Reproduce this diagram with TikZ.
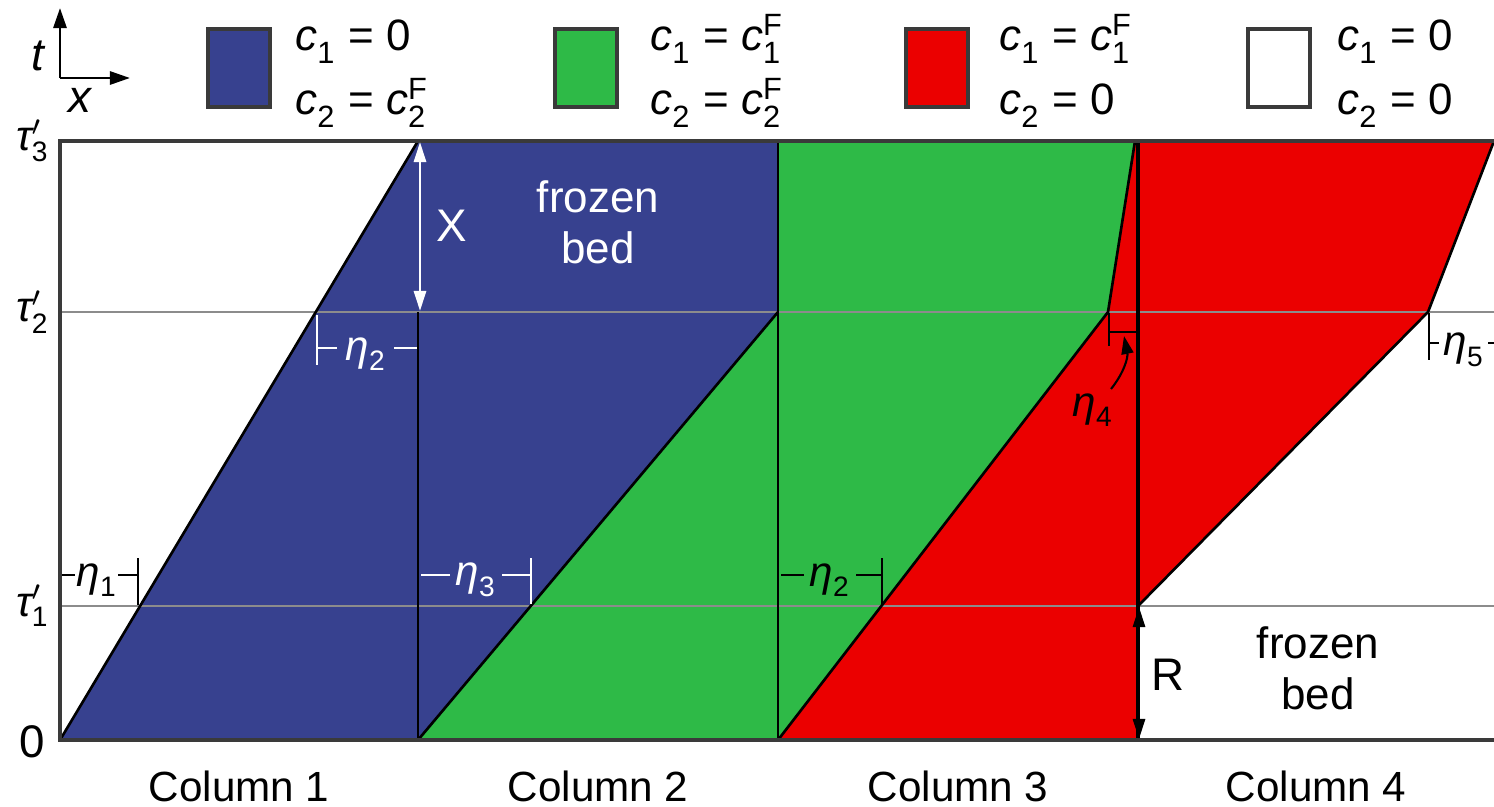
\documentclass[tikz,border=0pt]{standalone}
\usepackage{fontspec}
\usepackage{amsmath}
\setmainfont{Liberation Sans}
\usetikzlibrary{
  arrows.meta,
  positioning,
  calc
}
\definecolor{fbBlue}{HTML}{37418F}
\definecolor{fbGreen}{HTML}{2EBA47}
\definecolor{fbRed}{HTML}{EB0000}
\definecolor{fbFrame}{HTML}{3A3A3A}
\definecolor{fbGrid}{HTML}{8C8C8C}
\newcommand{\csym}[2]{$\textit{c}_{\text{#1}}^{\text{#2}}$}
\newcommand{\etasub}[1]{$\textit{η}_{\text{#1}}$}
\newcommand{\tausub}[1]{$\textit{τ}^{\prime}_{\text{#1}}$}
\tikzset{
  frameline/.style={line width=0.9pt, fbFrame},
  timeline/.style={line width=0.8pt, fbGrid},
  front/.style={line width=0.75pt, black},
  legbox/.style={draw=fbFrame, line width=0.9pt, minimum width=6.2mm, minimum height=7.8mm, inner sep=0pt},
  legtext/.style={anchor=base west, inner sep=0pt, font=\fontsize{12.5}{15}\selectfont},
  axisarrow/.style={-{Triangle[length=2mm, width=1.3mm]}, line width=0.8pt},
  span/.style={{Triangle[length=2mm, width=1.2mm]}-{Triangle[length=2mm, width=1.2mm]}, line width=0.8pt},
  dimw/.style={line width=0.5pt, white},
  dimk/.style={line width=0.5pt, black},
  etaw/.style={text=white, inner sep=1pt},
  etak/.style={text=black, inner sep=1pt},
  collabel/.style={font=\fontsize{12}{14}\selectfont},
  bedlabel/.style={align=center, font=\fontsize{12.5}{14.5}\selectfont}
}
\begin{document}
\begin{tikzpicture}[x=0.01cm, y=-0.01cm, font=\fontsize{12}{14}\selectfont]
  \useasboundingbox (0,0) rectangle (1494,806);
  \fill[fbBlue] (60,740) -- (418,141) -- (418,740) -- cycle;
  \fill[fbBlue] (418,740) -- (778,312) -- (778,141) -- (418,141) -- cycle;
  \fill[fbGreen] (418,740) -- (778,740) -- (778,312) -- cycle;
  \fill[fbGreen] (778,740) -- (1108,312) -- (1135,141) -- (778,141) -- cycle;
  \fill[fbRed] (778,740) -- (1138,740) -- (1138,141) -- (1135,141) -- (1108,312) -- cycle;
  \fill[fbRed] (1138,606) -- (1428,312) -- (1494,141) -- (1138,141) -- cycle;
  \draw[timeline] (60,312) -- (1494,312);
  \draw[timeline] (60,606) -- (1494,606);
  \draw[front] (60,740) -- (418,141);
  \draw[front] (418,740) -- (418,312);
  \draw[front] (418,740) -- (778,312);
  \draw[front] (778,740) -- (778,141);
  \draw[front] (778,740) -- (1108,312) -- (1135,141);
  \draw[front, line width=1pt] (1138,740) -- (1138,141);
  \draw[front] (1138,606) -- (1428,312) -- (1494,141);
  \draw[frameline] (1494,141) -- (60,141) -- (60,740) -- (1494,740);

  \coordinate (orig) at (60,78);
  \draw[axisarrow] (orig) -- (60,8);
  \draw[axisarrow] (orig) -- (130,78);
  \node[font=\fontsize{13}{15}\selectfont\itshape] (tlab) at (38,56) {t};
  \node[font=\fontsize{13}{15}\selectfont\itshape] (xlab) at (80,100) {x};

  \node[legbox, fill=fbBlue] (kBlue) at (239,68) {};
  \node[legtext] (kBlueA) at ($(kBlue.north east)+(23,23)$) {\csym{1}{} = 0};
  \node[legtext] (kBlueB) at ($(kBlue.south east)+(23,6)$) {\csym{2}{} = \csym{2}{F}};
  \node[legbox, fill=fbGreen] (kGreen) at (586,68) {};
  \node[legtext] (kGreenA) at ($(kGreen.north east)+(31,23)$) {\csym{1}{} = \csym{1}{F}};
  \node[legtext] (kGreenB) at ($(kGreen.south east)+(31,6)$) {\csym{2}{} = \csym{2}{F}};
  \node[legbox, fill=fbRed] (kRed) at (937,68) {};
  \node[legtext] (kRedA) at ($(kRed.north east)+(29,23)$) {\csym{1}{} = \csym{1}{F}};
  \node[legtext] (kRedB) at ($(kRed.south east)+(29,6)$) {\csym{2}{} = 0};
  \node[legbox, fill=white] (kWhite) at (1279,68) {};
  \node[legtext] (kWhiteA) at ($(kWhite.north east)+(25,23)$) {\csym{1}{} = 0};
  \node[legtext] (kWhiteB) at ($(kWhite.south east)+(25,6)$) {\csym{2}{} = 0};

  \node[anchor=east, inner sep=0pt] (tau3) at (50,141) {\tausub{3}};
  \node[anchor=east, inner sep=0pt] (tau2) at (50,312) {\tausub{2}};
  \node[anchor=east, inner sep=0pt] (tau1) at (50,606) {\tausub{1}};
  \node[anchor=east, inner sep=0pt, font=\fontsize{13}{15}\selectfont] (zero) at (46,742) {0};

  \node[collabel] (col1) at (239,786) {Column 1};
  \node[collabel] (col2) at (598,786) {Column 2};
  \node[collabel] (col3) at (958,786) {Column 3};
  \node[collabel] (col4) at (1316,786) {Column 4};

  \coordinate (xtop) at (420,142);
  \coordinate (xbot) at (420,311);
  \draw[span, white] (xtop) -- (xbot);
  \node[text=white, font=\fontsize{13}{15}\selectfont] (xgap) at (452,226) {X};
  \node[bedlabel, text=white] (bedA) at (598,222) {frozen\\bed};

  \coordinate (rtop) at (1139,607);
  \coordinate (rbot) at (1139,739);
  \draw[span, black] (rtop) -- (rbot);
  \node[font=\fontsize{13}{15}\selectfont] (rgap) at (1168,675) {R};
  \node[bedlabel] (bedB) at (1318,668) {frozen\\bed};

  \node[etak] (e1) at (97,580) {\etasub{1}};
  \draw[dimk] (62,575) -- (75,575) (118,575) -- (137,575) (138,558) -- (138,605);
  \node[etaw] (e2a) at (366,354) {\etasub{2}};
  \draw[dimw] (317,315) -- (317,365) (317,348) -- (337,348) (394,348) -- (417,348);
  \node[etaw] (e3) at (476,580) {\etasub{3}};
  \draw[dimw] (421,575) -- (450,575) (502,575) -- (530,575) (531,558) -- (531,604);
  \node[etak] (e2b) at (830,580) {\etasub{2}};
  \draw[dimk] (781,575) -- (804,575) (856,575) -- (881,575) (882,558) -- (882,604);
  \node[etak] (e4) at (1093,410) {\etasub{4}};
  \coordinate (e4tip) at (1124,336);
  \draw[dimk, line width=0.6pt] (1109,313) -- (1109,346) (1109,332) -- (1137,332);
  \draw[dimk, line width=0.6pt, -{Triangle[length=1.8mm, width=1.2mm]}] (1111,389) to[bend right=25] (e4tip);
  \node[etak] (e5) at (1464,350) {\etasub{5}};
  \draw[dimk] (1429,313) -- (1429,360) (1429,343) -- (1439,343) (1488,343) -- (1494,343);
\end{tikzpicture}
\end{document}
